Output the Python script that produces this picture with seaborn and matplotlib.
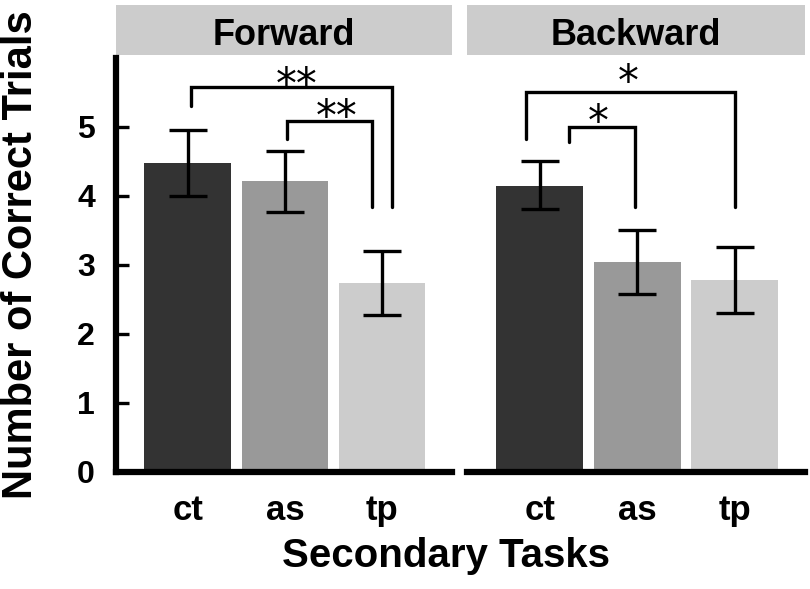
import matplotlib
matplotlib.use("Agg")
import matplotlib.pyplot as plt
from matplotlib.patches import Rectangle
import seaborn as sns
import pandas as pd
import numpy as np

tasks = ["ct", "as", "tp"]
forward_mean = [4.47, 4.21, 2.74]
forward_lo = [4.00, 3.77, 2.27]
forward_hi = [4.95, 4.65, 3.20]
backward_mean = [4.15, 3.04, 2.78]
backward_lo = [3.81, 2.58, 2.31]
backward_hi = [4.50, 3.51, 3.26]
panel_titles = ["Forward", "Backward"]
bar_colors = ["#333333", "#999999", "#cccccc"]
yticks = [0, 1, 2, 3, 4, 5]

# significance brackets: (left x, right x, top y, left leg bottom, right leg bottom, label, label x, label y)
forward_sig = [
    (0.03, 2.10, 5.58, 5.30, 3.84, "**", 1.12, 5.60),
    (1.02, 1.90, 5.09, 4.83, 3.84, "**", 1.53, 5.13),
]
backward_sig = [
    (-0.14, 2.00, 5.51, 4.83, 3.84, "*", 0.91, 5.63),
    (0.30, 0.98, 5.00, 4.78, 3.84, "*", 0.60, 5.06),
]

sns.set_theme(style="white")
plt.rcParams["font.family"] = ["Liberation Sans", "DejaVu Sans"]
plt.rcParams["font.weight"] = "bold"
plt.rcParams["text.color"] = "black"
plt.rcParams["xtick.color"] = "black"
plt.rcParams["ytick.color"] = "black"

fig = plt.figure(figsize=(8.10, 5.89), dpi=100)
ax1 = fig.add_axes([0.143, 0.1987, 0.415, 0.703])
ax2 = fig.add_axes([0.577, 0.1987, 0.417, 0.703])

panels = [
    (ax1, forward_mean, forward_lo, forward_hi, forward_sig, panel_titles[0]),
    (ax2, backward_mean, backward_lo, backward_hi, backward_sig, panel_titles[1]),
]

for i, (ax, mean, lo, hi, sig, title) in enumerate(panels):
    df = pd.DataFrame({"task": tasks, "value": mean})
    sns.barplot(data=df, x="task", y="value", hue="task", palette=bar_colors,
                order=tasks, width=0.89, errorbar=None, legend=False, ax=ax,
                linewidth=0, saturation=1)
    xs = np.arange(len(tasks))
    m = np.array(mean)
    yerr = np.vstack([m - np.array(lo), np.array(hi) - m])
    ax.errorbar(xs, m, yerr=yerr, fmt="none", ecolor="black", elinewidth=2.4,
                capsize=14, capthick=2.4, zorder=5)
    for (xl, xr, yt, yl, yr, lab, lx, ly) in sig:
        ax.plot([xl, xl, xr, xr], [yl, yt, yt, yr], color="black", lw=2.4,
                solid_joinstyle="miter", clip_on=False, zorder=6)
        ax.text(lx, ly, lab, ha="center", va="center", fontsize=30,
                fontweight="normal", family="DejaVu Sans", zorder=7)
    ax.set_xlim(-0.74, 2.72)
    ax.set_ylim(0, 6)
    ax.set_xlabel("")
    ax.set_ylabel("")
    ax.tick_params(axis="x", length=0, pad=16, labelsize=25, colors="black")
    for s in ["top", "right"]:
        ax.spines[s].set_visible(False)
    ax.spines["bottom"].set_linewidth(4.5)
    ax.spines["bottom"].set_color("black")
    if i == 0:
        ax.spines["left"].set_linewidth(4.5)
        ax.spines["left"].set_color("black")
        ax.set_yticks(yticks)
        ax.tick_params(axis="y", direction="in", length=9, width=2.4,
                       labelsize=23, pad=15, left=True, colors="black")
    else:
        ax.spines["left"].set_visible(False)
        ax.set_yticks([])
    for lbl in ax.get_xticklabels() + ax.get_yticklabels():
        lbl.set_fontweight("bold")
    # strip title
    ax.add_patch(Rectangle((0.0, 1.007), 1.0, 0.121, transform=ax.transAxes,
                           facecolor="#cccccc", edgecolor="none", clip_on=False))
    ax.text(0.5, 1.031, title, transform=ax.transAxes, ha="center", va="baseline",
            fontsize=26, fontweight="bold", color="black")

fig.text(0.551, 0.037, "Secondary Tasks", ha="center", va="baseline",
         fontsize=29, fontweight="bold", color="black")
fig.text(0.026, 0.567, "Number of Correct Trials", ha="center", va="center",
         rotation=90, fontsize=30, fontweight="bold", color="black")

fig.savefig("out.png", dpi=100)
